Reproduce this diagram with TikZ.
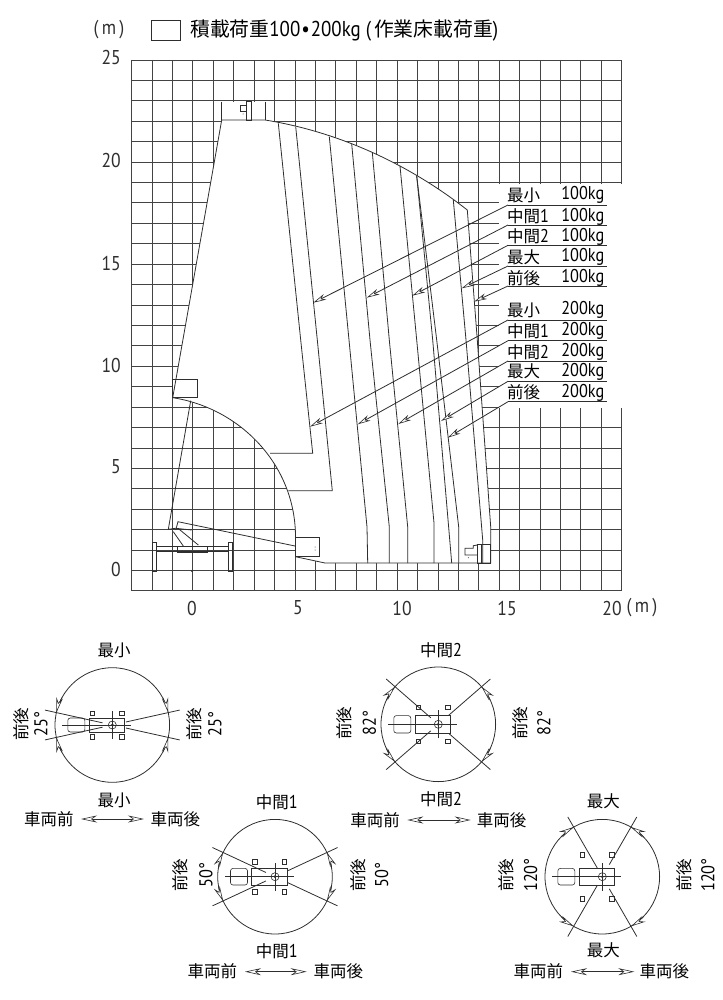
\documentclass[tikz,border=0pt]{standalone}
\usepackage{fontspec}
\setmainfont{Noto Sans CJK JP}
\newfontfamily\latn[FakeStretch=0.88]{PT Sans}
\usetikzlibrary{arrows.meta}
\definecolor{ink}{gray}{0.18}
\def\midnum#1{{\latn\fontsize{18.5}{18.5}\selectfont #1}}
\tikzset{
	gridline/.style={line width=0.95pt, color=ink!90},
	chartline/.style={line width=0.8pt, color=ink},
	leader/.style={line width=0.8pt, color=ink, -{Stealth[fill=white,length=13pt,width=6pt,inset=4pt,line width=0.6pt]}},
	swingarrow/.style={line width=0.7pt, color=ink, -{Stealth[fill=white,length=15pt,width=6.5pt,inset=5pt,line width=0.6pt]}},
	sidearrow/.style={line width=0.7pt, color=ink, {Stealth[fill=white,length=16pt,width=7pt,inset=5pt,line width=0.6pt]}-{Stealth[fill=white,length=16pt,width=7pt,inset=5pt,line width=0.6pt]}},
	axislabel/.style={text=ink, font=\latn\fontsize{20}{20}\selectfont, inner sep=0pt},
	tablelabel/.style={text=black, font=\fontsize{16.5}{16.5}\selectfont, inner sep=0pt, anchor=west},
	tableload/.style={text=black, font=\latn\fontsize{18.5}{18.5}\selectfont, inner sep=0pt, anchor=east},
	planlabel/.style={text=black, font=\fontsize{16.5}{16.5}\selectfont, inner sep=0pt},
}
% plan view: centre (x,y), half swing angle : outrigger offset : bed half height : arrow sweep
\def\swingplan(#1,#2)(#3:#4:#5:#6){
	\begin{scope}[shift={(#1,#2)}, y=1pt]
		\draw[chartline] (0,0) circle (57.3);
		\foreach \s in {-1,1} {
			\draw[swingarrow] ({57.3*cos(#3+#6)},{\s*57.3*sin(#3+#6)}) arc ({\s*(#3+#6)}:{\s*#3}:57.3);
			\draw[swingarrow] ({-57.3*cos(#3+#6)},{\s*57.3*sin(#3+#6)}) arc ({180-\s*(#3+#6)}:{180-\s*#3}:57.3);
			\draw[chartline] ({-10*cos(#3)},{\s*10*sin(#3)}) -- ({-69*cos(#3)},{\s*69*sin(#3)});
			\draw[chartline] ({14*cos(#3)},{\s*14*sin(#3)}) -- ({69*cos(#3)},{\s*69*sin(#3)});
			\draw[chartline, line width=0.6pt] (-22.5,{\s*#4-2.3}) rectangle (-18,{\s*#4+2.3});
			\draw[chartline, line width=0.6pt] (7,{\s*#4-2.3}) rectangle (11.5,{\s*#4+2.3});
		}
		\draw[chartline, line width=0.6pt, rounded corners=2.5pt] (-44.5,-#5) rectangle (-27.5,#5);
		\draw[chartline, line width=0.6pt] (-23.5,-#5) rectangle (11.8,#5);
		\draw[chartline, line width=0.6pt] (-50,0) -- (18.5,0);
		\draw[chartline, line width=0.6pt] (0,-14) -- (0,14);
		\draw[chartline, line width=0.6pt] (0,0) circle (4);
		\fill[ink] (0,0) circle (1.5);
	\end{scope}
}

\begin{document}
\begin{tikzpicture}[x=1pt, y=-1pt]
		\useasboundingbox (0,0) rectangle (722,1000);
		
		%%%%% GRID %%%%%
		\foreach \i in {0,...,24} \draw[gridline] ({131.7+20.42*\i},60) -- ({131.7+20.42*\i},591);
		\foreach \j in {0,...,26} \draw[gridline] (131.7,{60+20.42*\j}) -- (621.8,{60+20.42*\j});
		
		%%%%% WORKING RANGE %%%%%
		\fill[white] (221.7,101.7) rectangle (265.7,120.5);
		\fill[white] (498.5,184) rectangle (623,407.5);
		\fill[white] (172.7,379.5) rectangle (197.3,397.7);
		\fill[white] (221.7,120) -- (265,120) .. controls (340,132) and (410,165) .. (467.3,210) -- (477.3,340)
			-- (490.7,527) -- (490.7,563) -- (325,563) -- (295.5,556.7) -- (295.5,538)
			.. controls (296,465) and (240,408) .. (172.7,397.7) -- cycle;
		\draw[chartline] (221.7,120) -- (265,120) .. controls (340,132) and (410,165) .. (467.3,210) -- (477.3,340)
			-- (490.7,527) -- (490.7,563) -- (325,563) -- (295.5,556.7) -- (295.5,538)
			.. controls (296,465) and (240,408) .. (172.7,397.7) -- cycle;
		
		\draw[chartline] (278.3,123.3) -- (300.7,340) -- (312.7,453.3) -- (270,453.3);
		\draw[chartline] (295.7,126.7) -- (317.3,340) -- (332.3,490.7) -- (288.3,490.7);
		\draw[chartline] (329.3,136.7) -- (349,340) -- (367,527) -- (367.7,563);
		\draw[chartline] (351.7,144) -- (370,340) -- (389.3,527) -- (389.3,563);
		\draw[chartline] (372.3,152.3) -- (389.3,340) -- (407.7,527) -- (407.7,563);
		\draw[chartline] (400,166) -- (416.7,340) -- (434,523) -- (434,563);
		\draw[chartline] (416.7,176) -- (432.7,340) -- (451.7,563);
		\draw[chartline] (416.7,176) -- (436.7,340) -- (458.7,527) -- (458.7,563);
		\draw[chartline] (453.3,200) -- (466,340) -- (482.7,540) -- (482.7,563);
		
		%%%%% MACHINE %%%%%
		\draw[chartline] (221.7,101.7) -- (221.7,120) (265.7,101.7) -- (265.7,120);
		\draw[chartline] (240,105) rectangle (246.7,111.7);
		\draw[chartline] (246.7,101.7) rectangle (251.7,120);
		\fill[ink] (243,114) circle (0.5);
		\draw[chartline] (172.7,379.3) rectangle (197.3,397.7);
		\draw[chartline] (190.7,400.7) -- (168.3,529.3) -- (175.7,528.3);
		\draw[chartline] (175.7,530) -- (178,521.7) -- (295,546);
		\draw[chartline] (175.7,528.3) -- (191.7,530);
		\draw[chartline] (173.3,531.7) -- (183.3,546) (178,528.3) -- (198.3,545);
		\draw[chartline] (156,546.7) -- (228.3,546.7) (156,551.3) -- (228.3,551.3);
		\draw[chartline] (177.7,546.7) rectangle (207.3,552);
		\draw[chartline] (152.7,542.3) rectangle (156,571);
		\draw[chartline] (228.3,542.3) rectangle (232,571);
		\fill[ink] (192,571) circle (1.1);
		\draw[chartline] (295,537.3) rectangle (319,556.7);
		\fill[ink] (315,547) circle (0.5) (315,550) circle (0.5);
		\draw[chartline] (477.3,544.3) rectangle (490.7,563);
		\draw[chartline] (481.7,544.3) -- (481.7,563);
		\draw[chartline] (477.3,545) -- (473.3,545.7) -- (473.3,548.3) -- (465,548.3) -- (465,555) -- (477.3,555);
		\fill[ink] (468.3,557.7) circle (0.5);
		
		%%%%% AXES %%%%%
		\node[axislabel, anchor=east] (m) at (121,58) {25};
		\foreach \n/\y in {20/161,15/263,10/365,5/467,0/569} \node[axislabel, anchor=east] (y\n) at (121,\y) {\n};
		\foreach \n/\x in {0/192,5/298,10/402,15/507,20/612} \node[axislabel] (x\n) at (\x,608) {\n};
		\node[axislabel] (yunit) at (109,30) {(\,m\,)};
		\node[axislabel] (xunit) at (642,608) {(\,m\,)};
		
		%%%%% LEGEND %%%%%
		\draw[chartline] (151.7,20) rectangle (180.7,40.7);
		\node[inner sep=0pt, anchor=west, font=\fontsize{19.8}{19.8}\selectfont] (legend) at (190,31)
			{積載荷重{\latn\fontsize{21.5}{21.5}\selectfont 100\hspace{1pt}•\hspace{1pt}200kg\hspace{5pt}(\hspace{3pt}}作業床載荷重{\latn\fontsize{21.5}{21.5}\selectfont )}};
		
		%%%%% LOAD TABLE %%%%%
		\foreach \k/\lab/\load/\ty/\uy/\tipx/\tipy in {
				a/最小/100/195/205/313.3/302.7,
				b/中間\midnum{1}/100/216.7/225/366.7/297.7,
				c/中間\midnum{2}/100/236.7/245.3/412.3/295.7,
				d/最大/100/257.3/266/461.7/288.3,
				e/前後/100/278.3/286/474/301.7,
				f/最小/200/310/320/310/426.7,
				g/中間\midnum{1}/200/331/340.7/357.7/424.3,
				h/中間\midnum{2}/200/352/361/398.3/424,
				i/最大/200/371.7/381.3/441/421,
				j/前後/200/392.7/401.7/447.7/437.7} {
			\node[tablelabel] (lab\k) at (507,\ty) {\lab};
			\node[tableload] (load\k) at (604.5,\ty) {\load kg};
			\coordinate (under\k) at (508,\uy);
			\coordinate (end\k) at (606.7,\uy);
			\coordinate (tip\k) at (\tipx,\tipy);
			\draw[chartline] (end\k) -- (under\k);
			\draw[leader] (under\k) -- (tip\k);
		}
		
		%%%%% SWING PLANS %%%%%
		\swingplan(112.3,725)(12.5:11.7:7:16)
		\swingplan(438.3,724.3)(41:17:8.7:-16)
		\swingplan(275,876.7)(25:14.8:8.3:-16)
		\swingplan(602.3,876.7)(60:22:8.3:-16)
		
		\foreach \k/\lab/\x/\ya/\yb in {
				a/最小/114/650.7/800,
				b/中間\midnum{2}/441/650.7/799.3,
				c/中間\midnum{1}/276.7/802.7/951.7,
				d/最大/603.3/801.7/950} {
			\node[planlabel] (top\k) at (\x,\ya) {\lab};
			\node[planlabel] (bot\k) at (\x,\yb) {\lab};
		}
		\foreach \k/\xa/\xb/\xc/\xd/\y in {
				a/48.8/81/144/175.3/819,
				b/375/407.3/470.7/501.7/820,
				c/212.3/245/306.7/338.3/971.7,
				d/538.3/571/634.3/664.3/971.7} {
			\node[planlabel] (front\k) at (\xa,\y) {車両前};
			\node[planlabel] (rear\k) at (\xd,\y) {車両後};
			\coordinate (sa\k) at (\xb,\y);
			\coordinate (sb\k) at (\xc,\y);
			\draw[sidearrow] (sa\k) -- (sb\k);
		}
		\foreach \k/\deg/\xa/\xb/\xc/\xd/\y in {
				a/25/21/41/194/215/724,
				b/82/344.3/369.3/520/544/723,
				c/50/180.7/206/358.3/381.7/875,
				d/120/506.7/530.7/684/708/875} {
			\node[planlabel, rotate=90] (swla\k) at (\xa,\y) {前後};
			\node[planlabel, rotate=90, font=\latn\fontsize{18.5}{18.5}\selectfont] (swlb\k) at (\xb,\y) {\deg°};
			\node[planlabel, rotate=90] (swra\k) at (\xc,\y) {前後};
			\node[planlabel, rotate=90, font=\latn\fontsize{18.5}{18.5}\selectfont] (swrb\k) at (\xd,\y) {\deg°};
		}
	\end{tikzpicture}
\end{document}
